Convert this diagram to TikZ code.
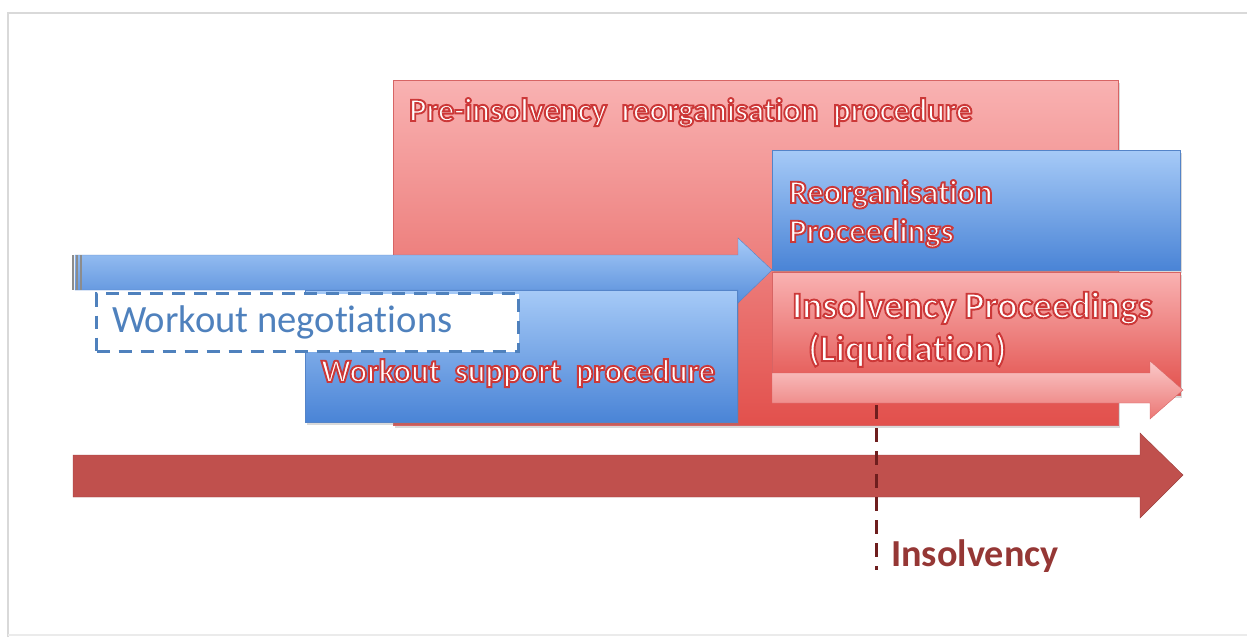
\documentclass[tikz,border=0pt]{standalone}
\usepackage{fontspec}
\setmainfont{Carlito}[Ligatures=NoCommon]
\usetikzlibrary{shadows}

\definecolor{pinktop}{RGB}{249,178,178}
\definecolor{redbottom}{RGB}{226,80,76}
\definecolor{bluetop}{RGB}{166,202,247}
\definecolor{bluebottom}{RGB}{74,132,214}
\definecolor{blueedge}{RGB}{84,132,200}
\definecolor{rededge}{RGB}{215,100,100}
\definecolor{negblue}{RGB}{79,129,189}
\definecolor{timered}{RGB}{192,80,77}
\definecolor{darkred}{RGB}{149,55,53}
\definecolor{cutred}{RGB}{110,30,30}

% white letters with a red outline
\newcommand{\glow}[1]{\special{pdf:literal direct 2 Tr 1.9 w 0.80 0.22 0.22 RG}#1\special{pdf:literal direct 0 Tr}}

\tikzset{
  redbox/.style={draw=rededge, top color=pinktop, bottom color=redbottom, anchor=north west, inner sep=0pt, outer sep=0pt},
  bluebox/.style={draw=blueedge, top color=bluetop, bottom color=bluebottom, anchor=north west, inner sep=0pt, outer sep=0pt},
  boxshadow/.style={drop shadow={opacity=0.3, shadow xshift=2pt, shadow yshift=-3pt}},
  glowlabel/.style={anchor=base west, inner sep=0pt, text=white, font=\fontsize{32.7}{38}\selectfont\bfseries},
  biglabel/.style={glowlabel, font=\fontsize{37.4}{44}\selectfont\bfseries},
}

\begin{document}
\begin{tikzpicture}[x=1pt, y=-1pt]
\useasboundingbox (0,0) rectangle (1247,637);
% frame
\draw[black!15, line width=2pt] (8,637) -- (8,13) -- (1247,13);
\draw[black!8, line width=1.5pt] (8,635) -- (1247,635);

% procedures
\node[redbox, boxshadow, minimum width=725, minimum height=345] (preins) at (393,80) {};
\node[bluebox, boxshadow, minimum width=432, minimum height=132] (support) at (305,290) {};
\node[draw=negblue, fill=white, line width=3pt, dash pattern=on 13pt off 9pt, anchor=north west, minimum width=422, minimum height=58] (negot) at (95,292) {};

% negotiations arrow
\shade[draw=blueedge, top color=bluetop, bottom color=bluebottom!85!bluetop] (75,255) -- (738,255) -- (738,238) -- (772,270) -- (738,303) -- (738,290) -- (75,290) -- cycle;
\foreach \x in {73,77,81}
  \draw[black!45, line width=1.2pt] (\x,255) -- (\x,290);

\node[bluebox, boxshadow, minimum width=408, minimum height=120] (reorg) at (772,150) {};
\node[redbox, boxshadow, minimum width=408, minimum height=123] (insolv) at (772,272) {};

% liquidation arrow
\shade[draw=rededge, top color=pinktop!70!white, bottom color=redbottom!60!pinktop] (772,373) -- (1150,373) -- (1150,361) -- (1183,390) -- (1150,419) -- (1150,403) -- (772,403) -- cycle;

% time line
\filldraw[fill=timered, draw=timered!80!black] (73,455) -- (1140,455) -- (1140,433) -- (1183,475) -- (1140,518) -- (1140,497) -- (73,497) -- cycle;

% insolvency cut
\coordinate (cuttop) at (876,405);
\coordinate (cutbot) at (876,570);
\draw[cutred, line width=3pt, dash pattern=on 14pt off 9pt] (cuttop) -- (cutbot);

% labels
\node[glowlabel] (preinsText) at (409,121) {\glow{Pre-insolvency\ \ reorganisation\ \ procedure}};
\node[glowlabel] (reorgText1) at (789,203) {\glow{Reorganisation}};
\node[glowlabel] (reorgText2) at (789,242) {\glow{Proceedings}};
\node[biglabel] (insolvText1) at (792,318) {\glow{Insolvency Proceedings}};
\node[biglabel] (insolvText2) at (808,361) {\glow{(Liquidation)}};
\node[glowlabel] (supportText) at (321,382) {\glow{Workout\ \ support\ \ procedure}};
\node[anchor=base west, inner sep=0pt, text=negblue, font=\fontsize{38.6}{44}\selectfont] (negotText) at (112,332) {Workout negotiations};
\node[anchor=base west, inner sep=0pt, text=darkred, font=\fontsize{38.2}{44}\selectfont\bfseries] (cutText) at (891,566) {Insolvency};
\end{tikzpicture}
\end{document}
